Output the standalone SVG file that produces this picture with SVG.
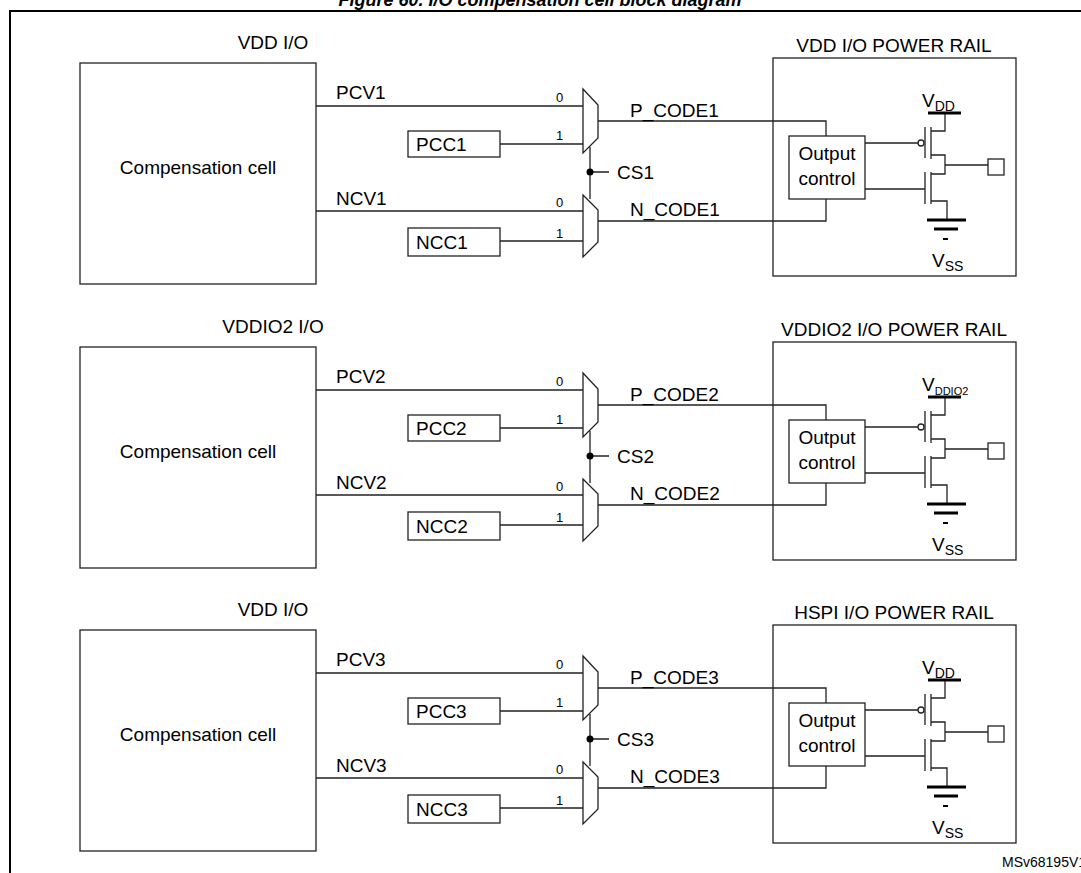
<svg xmlns="http://www.w3.org/2000/svg" width="1081" height="873" viewBox="0 0 1081 873">
<style>
text{font-family:"Liberation Sans",Arial,sans-serif;fill:#000}
.l{font-size:19px}
.s{font-size:13px}
.sub{font-size:14px}
.b{fill:#fff;stroke:#222;stroke-width:1.3}
.w{fill:none;stroke:#222;stroke-width:1.3}
.t{fill:none;stroke:#000;stroke-width:3}
</style>
<rect width="1081" height="873" fill="#fff"/>
<text x="540" y="6" text-anchor="middle" style="font-size:18px;font-weight:bold;font-style:italic">Figure 60. I/O compensation cell block diagram</text>
<path d="M10 873V11H1081" fill="none" stroke="#000" stroke-width="2"/>
<defs>
<g id="sec">
<rect class="b" x="80" y="63" width="236" height="221"/>
<text x="198" y="174" text-anchor="middle" style="font-size:19px">Compensation cell</text>
<rect class="b" x="773" y="58" width="243" height="218"/>
<rect class="b" x="408" y="131" width="92" height="26"/>
<rect class="b" x="408" y="228" width="92" height="28"/>
<path class="w" d="M583 89L598 105V138L583 153Z"/>
<path class="w" d="M583 195L598 210V242L583 257Z"/>
<path class="w" d="M316 106H583M500 144H583M316 211H583M500 241H583M598 121H826V136M598 221H826V199M590 147V199M590 172H609"/>
<circle cx="590" cy="172" r="3.5" fill="#000"/>
<text class="s" x="556" y="102">0</text><text class="s" x="556" y="140">1</text>
<text class="s" x="556" y="207">0</text><text class="s" x="556" y="238">1</text>
<rect class="b" x="789" y="136" width="76" height="63"/>
<text class="l" x="827" y="160" text-anchor="middle">Output</text>
<text class="l" x="827" y="185" text-anchor="middle">control</text>
<path class="w" d="M865 143H918M865 189H925M925 127V158M925 172V204M931 127V159M931 172V204M931 131H945V113M931 155H945V174H931M945 165H988M931 201H947V220"/>
<circle cx="921" cy="143" r="3" class="b"/>
<rect class="b" x="988" y="159" width="16" height="16"/>
<path class="t" d="M928 113H961M927 220H966M934 229H958"/>
<path d="M943 239H948" stroke="#000" stroke-width="2"/>
</g>
</defs>
<g id="section1"><use href="#sec"/>
<text class="l" x="273" y="49" text-anchor="middle">VDD I/O</text>
<text class="l" x="894" y="52" text-anchor="middle">VDD I/O POWER RAIL</text>
<text class="l" x="336" y="99">PCV1</text><text class="l" x="336" y="205">NCV1</text>
<text class="l" x="416" y="151">PCC1</text><text class="l" x="416" y="249">NCC1</text>
<text class="l" x="630" y="117">P_CODE1</text><text class="l" x="630" y="216">N_CODE1</text>
<text class="l" x="617" y="179">CS1</text>
<text class="l" x="922" y="107">V<tspan class="sub" dy="4">DD</tspan></text>
<text class="l" x="932" y="267">V<tspan class="sub" dy="4">SS</tspan></text>
</g>
<g id="section2" transform="translate(0,284)"><use href="#sec"/>
<text class="l" x="273" y="49" text-anchor="middle">VDDIO2 I/O</text>
<text class="l" x="894" y="52" text-anchor="middle">VDDIO2 I/O POWER RAIL</text>
<text class="l" x="336" y="99">PCV2</text><text class="l" x="336" y="205">NCV2</text>
<text class="l" x="416" y="151">PCC2</text><text class="l" x="416" y="249">NCC2</text>
<text class="l" x="630" y="117">P_CODE2</text><text class="l" x="630" y="216">N_CODE2</text>
<text class="l" x="617" y="179">CS2</text>
<text class="l" x="922" y="107">V<tspan style="font-size:11px" dy="4">DDIO2</tspan></text>
<text class="l" x="932" y="267">V<tspan class="sub" dy="4">SS</tspan></text>
</g>
<g id="section3" transform="translate(0,567)"><use href="#sec"/>
<text class="l" x="273" y="49" text-anchor="middle">VDD I/O</text>
<text class="l" x="894" y="52" text-anchor="middle">HSPI I/O POWER RAIL</text>
<text class="l" x="336" y="99">PCV3</text><text class="l" x="336" y="205">NCV3</text>
<text class="l" x="416" y="151">PCC3</text><text class="l" x="416" y="249">NCC3</text>
<text class="l" x="630" y="117">P_CODE3</text><text class="l" x="630" y="216">N_CODE3</text>
<text class="l" x="617" y="179">CS3</text>
<text class="l" x="922" y="107">V<tspan class="sub" dy="4">DD</tspan></text>
<text class="l" x="932" y="267">V<tspan class="sub" dy="4">SS</tspan></text>
</g>
<text x="1002" y="867" style="font-size:14px">MSv68195V1</text>
</svg>
